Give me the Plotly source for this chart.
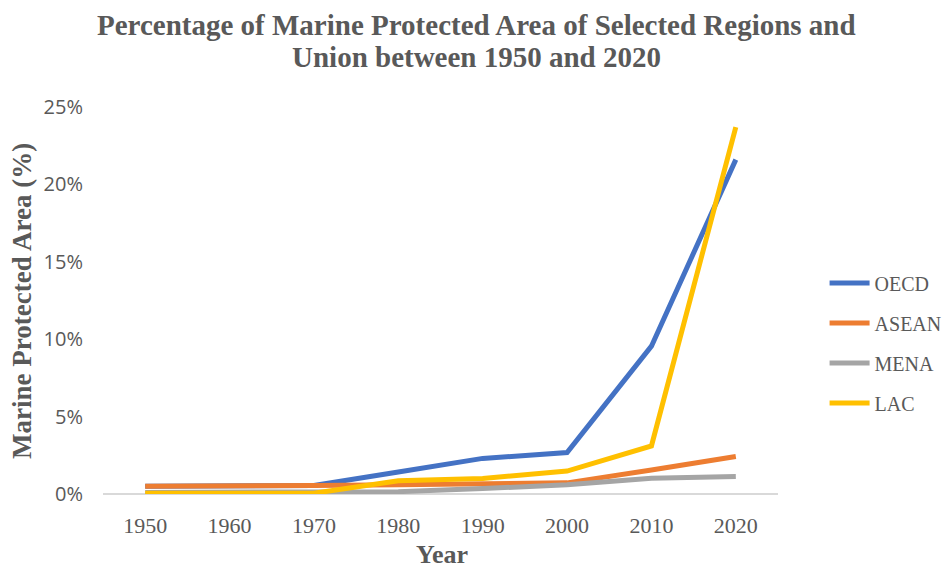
import plotly.graph_objects as go

years = [1950, 1960, 1970, 1980, 1990, 2000, 2010, 2020]
oecd = [0.5, 0.5, 0.55, 1.42, 2.3, 2.68, 9.55, 21.6]
asean = [0.5, 0.5, 0.55, 0.6, 0.62, 0.72, 1.55, 2.42]
mena = [0.1, 0.1, 0.1, 0.15, 0.35, 0.6, 1.02, 1.13]
lac = [0.05, 0.05, 0.05, 0.85, 1.0, 1.48, 3.1, 23.7]
yticks = [0, 5, 10, 15, 20, 25]
title_lines = ["Percentage of Marine Protected Area of Selected Regions and",
               "Union between 1950 and 2020"]
x_title = "Year"
y_title = "Marine Protected Area (%)"

series = [("OECD", oecd, "#4472C4"), ("ASEAN", asean, "#ED7D31"),
          ("MENA", mena, "#A5A5A5"), ("LAC", lac, "#FFC000")]

fig = go.Figure()
for name, vals, col in series:
    fig.add_trace(go.Scatter(x=years, y=vals, mode="lines", name=name,
                             legendgroup=name,
                             line=dict(color=col, width=5)))

serif = "Liberation Serif, Times New Roman, serif"
grey = "#595959"
L, T, PW, PH = 103, 107, 674.6, 387


def px_x(p):
    return (p - L) / PW


def px_y(p):
    return 1 + (T - p) / PH


annots = []
for txt, ypx in zip(title_lines, [25, 57]):
    annots.append(dict(text=f"<b>{txt}</b>", xref="paper", yref="paper",
                       x=px_x(476), y=px_y(ypx),
                       xanchor="center", yanchor="middle", showarrow=False,
                       font=dict(family=serif, size=29, color=grey)))
annots.append(dict(text=f"<b>{x_title}</b>", xref="paper", yref="paper",
                   x=px_x(442), y=px_y(554), xanchor="center", yanchor="middle",
                   showarrow=False, font=dict(family=serif, size=26, color=grey)))
annots.append(dict(text=f"<b>{y_title}</b>", xref="paper", yref="paper",
                   x=px_x(22), y=px_y(301), xanchor="center", yanchor="middle",
                   textangle=-90, showarrow=False,
                   font=dict(family=serif, size=27, color=grey)))

fig.update_layout(
    width=949, height=568,
    margin=dict(l=L, r=949 - L - PW, t=T, b=568 - T - PH, autoexpand=False),
    paper_bgcolor="white", plot_bgcolor="white",
    annotations=annots,
    xaxis=dict(range=[1945, 2025], tickvals=years, ticktext=[str(y) for y in years],
               showgrid=False, zeroline=False, showline=False, automargin=False,
               ticks="outside", ticklen=12, tickcolor="rgba(0,0,0,0)",
               tickfont=dict(family=serif, size=22, color=grey)),
    yaxis=dict(range=[0, 25], tickvals=yticks, ticktext=[f"{v}%" for v in yticks],
               showgrid=False, zeroline=True, zerolinecolor="#D9D9D9", zerolinewidth=1.5,
               showline=False, automargin=False,
               ticks="outside", ticklen=15, tickcolor="rgba(0,0,0,0)",
               tickfont=dict(family="Open Sans, sans-serif", size=20, color=grey)),
    legend=dict(x=1.069, xanchor="left", y=0.39, yanchor="middle",
                font=dict(family=serif, size=20, color=grey),
                tracegroupgap=11, itemwidth=40),
    showlegend=True,
)
fig.write_html("out.html")
